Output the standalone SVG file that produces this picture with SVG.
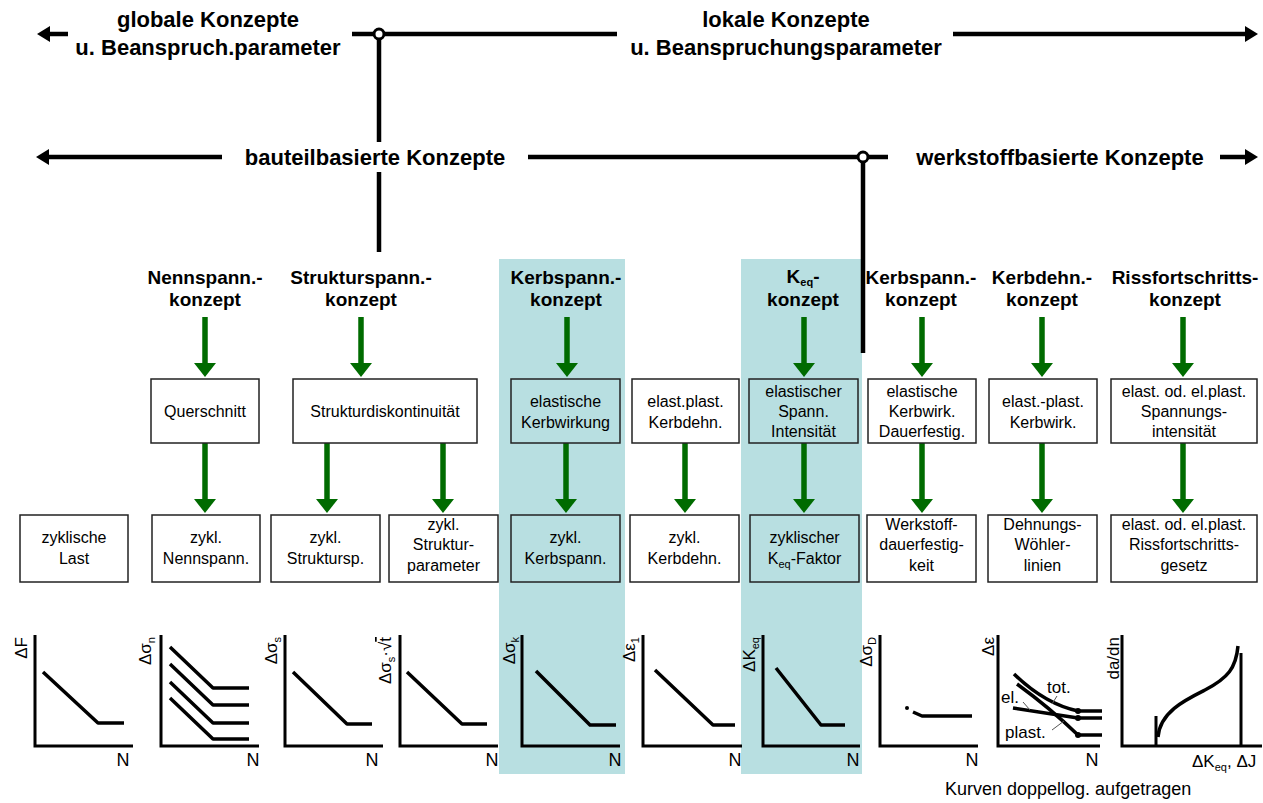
<svg xmlns="http://www.w3.org/2000/svg" xmlns:xlink="http://www.w3.org/1999/xlink" width="1263" height="803" viewBox="0 0 1263 803">
<style>
text{font-family:"Liberation Sans",Arial,Helvetica,sans-serif;fill:#000}
.t1{font-size:22px;font-weight:bold;text-anchor:middle}
.h{font-size:19px;font-weight:bold;text-anchor:middle}
.bx{font-size:16px;text-anchor:middle}
.ax{font-size:17px}
.nn{font-size:18px;text-anchor:middle}
.box{fill:#fff;stroke:#222;stroke-width:1.5}
.boxt{fill:#b8dfe1;stroke:#222;stroke-width:1.5}
.teal{fill:#b8dfe1}
.ln{stroke:#000;stroke-width:4.5;fill:none}
.g{stroke:#006b00;stroke-width:5.5;fill:none}
.gh{fill:#006b00}
.axis{stroke:#000;stroke-width:3;fill:none}
.data{stroke:#000;stroke-width:3.5;fill:none;stroke-linejoin:round}
.thin{stroke:#555;stroke-width:1;fill:none}
</style>
<defs>
<path id="gh" class="gh" d="M-11,-14 L11,-14 L0,0 Z"/>
<path id="al" d="M0,0 L13,-8 L13,8 Z" fill="#000"/>
<path id="ar" d="M0,0 L-13,-8 L-13,8 Z" fill="#000"/>
</defs>
<rect width="1263" height="803" fill="#fff"/>
<g id="highlight">
<rect class="teal" x="499" y="259" width="126" height="515"/>
<rect class="teal" x="741" y="259" width="121" height="515"/>
</g>
<g id="connectors">
<line class="ln" x1="49" y1="34" x2="68" y2="34"/>
<use xlink:href="#al" x="37" y="34"/>
<line class="ln" x1="352" y1="34" x2="374" y2="34"/>
<line class="ln" x1="384" y1="34" x2="617" y2="34"/>
<line class="ln" x1="953" y1="34" x2="1246" y2="34"/>
<use xlink:href="#ar" x="1258" y="34"/>
<line class="ln" x1="379" y1="39" x2="379" y2="142"/>
<line class="ln" x1="379" y1="172" x2="379" y2="252"/>
<circle cx="379" cy="34" r="5" fill="#fff" stroke="#000" stroke-width="3"/>
<line class="ln" x1="48" y1="157" x2="222" y2="157"/>
<use xlink:href="#al" x="36" y="157"/>
<line class="ln" x1="528" y1="157" x2="858" y2="157"/>
<line class="ln" x1="868" y1="157" x2="888" y2="157"/>
<line class="ln" x1="1220" y1="157" x2="1246" y2="157"/>
<use xlink:href="#ar" x="1258" y="157"/>
<line class="ln" x1="863" y1="162" x2="863" y2="353"/>
<circle cx="863" cy="157" r="5" fill="#fff" stroke="#000" stroke-width="3"/>
<g id="green-row1">
<line class="g" x1="205" y1="317" x2="205" y2="365"/><use xlink:href="#gh" x="205" y="377"/>
<line class="g" x1="361" y1="317" x2="361" y2="365"/><use xlink:href="#gh" x="361" y="377"/>
<line class="g" x1="567" y1="317" x2="567" y2="365"/><use xlink:href="#gh" x="567" y="377"/>
<line class="g" x1="804" y1="317" x2="804" y2="365"/><use xlink:href="#gh" x="804" y="377"/>
<line class="g" x1="922" y1="317" x2="922" y2="365"/><use xlink:href="#gh" x="922" y="377"/>
<line class="g" x1="1042" y1="317" x2="1042" y2="365"/><use xlink:href="#gh" x="1042" y="377"/>
<line class="g" x1="1183" y1="317" x2="1183" y2="365"/><use xlink:href="#gh" x="1183" y="377"/>
</g>
<g id="green-row2">
<line class="g" x1="205" y1="443" x2="205" y2="501"/><use xlink:href="#gh" x="205" y="513"/>
<line class="g" x1="327" y1="443" x2="327" y2="501"/><use xlink:href="#gh" x="327" y="513"/>
<line class="g" x1="443" y1="443" x2="443" y2="501"/><use xlink:href="#gh" x="443" y="513"/>
<line class="g" x1="566" y1="443" x2="566" y2="501"/><use xlink:href="#gh" x="566" y="513"/>
<line class="g" x1="685" y1="443" x2="685" y2="501"/><use xlink:href="#gh" x="685" y="513"/>
<line class="g" x1="804" y1="443" x2="804" y2="501"/><use xlink:href="#gh" x="804" y="513"/>
<line class="g" x1="922" y1="443" x2="922" y2="501"/><use xlink:href="#gh" x="922" y="513"/>
<line class="g" x1="1042" y1="443" x2="1042" y2="501"/><use xlink:href="#gh" x="1042" y="513"/>
<line class="g" x1="1183" y1="443" x2="1183" y2="501"/><use xlink:href="#gh" x="1183" y="513"/>
</g>
</g>
<g id="top-labels">
<text class="t1" x="208" y="27">globale Konzepte</text>
<text class="t1" x="208" y="55">u. Beanspruch.parameter</text>
<text class="t1" x="786" y="27">lokale Konzepte</text>
<text class="t1" x="786" y="55">u. Beanspruchungsparameter</text>
<text class="t1" x="375" y="165">bauteilbasierte Konzepte</text>
<text class="t1" x="1060" y="165">werkstoffbasierte Konzepte</text>
</g>
<g id="headers">
<text class="h" x="205" y="284">Nennspann.-</text><text class="h" x="205" y="306">konzept</text>
<text class="h" x="361" y="284">Strukturspann.-</text><text class="h" x="361" y="306">konzept</text>
<text class="h" x="566" y="284">Kerbspann.-</text><text class="h" x="566" y="306">konzept</text>
<text class="h" x="803" y="283">K<tspan dy="3" font-size="11">eq</tspan><tspan dy="-3">-</tspan></text><text class="h" x="803" y="306">konzept</text>
<text class="h" x="921" y="284">Kerbspann.-</text><text class="h" x="921" y="306">konzept</text>
<text class="h" x="1042" y="284">Kerbdehn.-</text><text class="h" x="1042" y="306">konzept</text>
<text class="h" x="1185" y="284">Rissfortschritts-</text><text class="h" x="1185" y="306">konzept</text>
</g>
<g id="n-querschnitt"><rect class="box" x="151" y="379" width="108" height="64"/><text class="bx" x="205" y="417">Querschnitt</text></g>
<g id="n-strukturdisk"><rect class="box" x="293" y="379" width="184" height="64"/><text class="bx" x="385" y="417">Strukturdiskontinuität</text></g>
<g id="n-elkerb"><rect class="boxt" x="511" y="379" width="109" height="64"/><text class="bx" x="565.5" y="407">elastische</text><text class="bx" x="565.5" y="428">Kerbwirkung</text></g>
<g id="n-elplkerbdehn"><rect class="box" x="632" y="379" width="107" height="64"/><text class="bx" x="685.5" y="407">elast.plast.</text><text class="bx" x="685.5" y="428">Kerbdehn.</text></g>
<g id="n-spannint"><rect class="boxt" x="749" y="379" width="109" height="64"/><text class="bx" x="803.5" y="397">elastischer</text><text class="bx" x="803.5" y="417">Spann.</text><text class="bx" x="803.5" y="437">Intensität</text></g>
<g id="n-kerbdauer"><rect class="box" x="868" y="379" width="108" height="64"/><text class="bx" x="922" y="397">elastische</text><text class="bx" x="922" y="417">Kerbwirk.</text><text class="bx" x="922" y="437">Dauerfestig.</text></g>
<g id="n-elplkerbwirk"><rect class="box" x="989" y="379" width="108" height="64"/><text class="bx" x="1043" y="407">elast.-plast.</text><text class="bx" x="1043" y="428">Kerbwirk.</text></g>
<g id="n-spannungsint"><rect class="box" x="1111" y="379" width="146" height="64"/><text class="bx" x="1184" y="397">elast. od. el.plast.</text><text class="bx" x="1184" y="417">Spannungs-</text><text class="bx" x="1184" y="437">intensität</text></g>
<g id="n-zyklast"><rect class="box" x="20" y="515" width="108" height="67"/><text class="bx" x="74" y="543">zyklische</text><text class="bx" x="74" y="564">Last</text></g>
<g id="n-zyknenn"><rect class="box" x="152" y="515" width="108" height="67"/><text class="bx" x="206" y="543">zykl.</text><text class="bx" x="206" y="564">Nennspann.</text></g>
<g id="n-zykstruk"><rect class="box" x="271" y="515" width="109" height="67"/><text class="bx" x="325.5" y="543">zykl.</text><text class="bx" x="325.5" y="564">Struktursp.</text></g>
<g id="n-zykstrukpar"><rect class="box" x="389" y="515" width="109" height="67"/><text class="bx" x="443.5" y="530">zykl.</text><text class="bx" x="443.5" y="550">Struktur-</text><text class="bx" x="443.5" y="571">parameter</text></g>
<g id="n-zykkerb"><rect class="boxt" x="511" y="515" width="109" height="67"/><text class="bx" x="565.5" y="543">zykl.</text><text class="bx" x="565.5" y="564">Kerbspann.</text></g>
<g id="n-zykkerbdehn"><rect class="box" x="630" y="515" width="109" height="67"/><text class="bx" x="684.5" y="543">zykl.</text><text class="bx" x="684.5" y="564">Kerbdehn.</text></g>
<g id="n-zykkeq"><rect class="boxt" x="750" y="515" width="109" height="67"/><text class="bx" x="804.5" y="543">zyklischer</text><text class="bx" x="804.5" y="564">K<tspan dy="4" font-size="11">eq</tspan><tspan dy="-4">-Faktor</tspan></text></g>
<g id="n-werkstoff"><rect class="box" x="867" y="515" width="109" height="67"/><text class="bx" x="921.5" y="530">Werkstoff-</text><text class="bx" x="921.5" y="550">dauerfestig-</text><text class="bx" x="921.5" y="571">keit</text></g>
<g id="n-dehnung"><rect class="box" x="988" y="515" width="109" height="67"/><text class="bx" x="1042.5" y="530">Dehnungs-</text><text class="bx" x="1042.5" y="550">Wöhler-</text><text class="bx" x="1042.5" y="571">linien</text></g>
<g id="n-riss"><rect class="box" x="1111" y="515" width="146" height="67"/><text class="bx" x="1184" y="530">elast. od. el.plast.</text><text class="bx" x="1184" y="550">Rissfortschritts-</text><text class="bx" x="1184" y="571">gesetz</text></g>
<g id="chart-F">
<polyline class="axis" points="35,635 35,746 133,746"/>
<polyline class="data" points="43,672 98,723 124,723"/>
<text class="ax" transform="translate(27,637) rotate(-90)" text-anchor="end">ΔF</text>
<text class="nn" x="123" y="766">N</text>
</g>
<g id="chart-sn">
<polyline class="axis" points="161,635 161,746 259,746"/>
<polyline class="data" points="170,647 213,688 249,688"/>
<polyline class="data" points="170,664 213,705 249,705"/>
<polyline class="data" points="170,682 213,723 249,723"/>
<polyline class="data" points="170,698 213,739 249,739"/>
<text class="ax" transform="translate(151,637) rotate(-90)" text-anchor="end">Δσ<tspan dy="4" font-size="11">n</tspan></text>
<text class="nn" x="253" y="766">N</text>
</g>
<g id="chart-ss">
<polyline class="axis" points="285,635 285,746 383,746"/>
<polyline class="data" points="293,672 347,724 372,724"/>
<text class="ax" transform="translate(277,637) rotate(-90)" text-anchor="end">Δσ<tspan dy="4" font-size="11">s</tspan></text>
<text class="nn" x="372" y="766">N</text>
</g>
<g id="chart-sst">
<polyline class="axis" points="400,635 400,746 498,746"/>
<polyline class="data" points="407,672 462,724 487,724"/>
<text class="ax" transform="translate(391,637) rotate(-90)" text-anchor="end">Δσ<tspan dy="4" font-size="11">s</tspan><tspan dy="-4">·√</tspan><tspan text-decoration="overline">t</tspan></text>
<text class="nn" x="492" y="766">N</text>
</g>
<g id="chart-sk">
<polyline class="axis" points="522,635 522,746 620,746"/>
<polyline class="data" points="536,671 590,725 616,725"/>
<text class="ax" transform="translate(515,637) rotate(-90)" text-anchor="end">Δσ<tspan dy="4" font-size="11">k</tspan></text>
<text class="nn" x="615" y="766">N</text>
</g>
<g id="chart-e1">
<polyline class="axis" points="643,635 643,746 742,746"/>
<polyline class="data" points="655,670 713,725 735,725"/>
<text class="ax" transform="translate(635,637) rotate(-90)" text-anchor="end">Δε<tspan dy="4" font-size="11">1</tspan></text>
<text class="nn" x="735" y="766">N</text>
</g>
<g id="chart-keq">
<polyline class="axis" points="763,635 763,746 860,746"/>
<polyline class="data" points="776,668 821,725 845,725"/>
<text class="ax" transform="translate(755,637) rotate(-90)" text-anchor="end">ΔK<tspan dy="4" font-size="11">eq</tspan></text>
<text class="nn" x="853" y="766">N</text>
</g>
<g id="chart-sd">
<polyline class="axis" points="880,635 880,746 978,746"/>
<circle cx="907" cy="708" r="2"/>
<polyline class="data" points="913,712 922,716 972,716"/>
<text class="ax" transform="translate(872,637) rotate(-90)" text-anchor="end">Δσ<tspan dy="4" font-size="11">D</tspan></text>
<text class="nn" x="972" y="766">N</text>
</g>
<g id="chart-eps">
<polyline class="axis" points="998,635 998,746 1100,746"/>
<path class="data" d="M1014,674 Q1045,704 1078,711 L1102,711"/>
<path class="data" d="M1013,708 L1078,718 L1102,718"/>
<path class="data" d="M1017,684 Q1050,708 1078,735 L1102,735"/>
<circle cx="1078" cy="711" r="3"/><circle cx="1078" cy="718" r="3"/><circle cx="1078" cy="735" r="3"/>
<line class="thin" x1="1057" y1="696" x2="1052" y2="704"/>
<line class="thin" x1="1023" y1="702" x2="1030" y2="710"/>
<line class="thin" x1="1052" y1="730" x2="1064" y2="721"/>
<text class="ax" x="1047" y="693">tot.</text>
<text class="ax" x="1001" y="703">el.</text>
<text class="ax" x="1005" y="738">plast.</text>
<text class="ax" transform="translate(994,637) rotate(-90)" text-anchor="end">Δε</text>
<text class="nn" x="1092" y="766">N</text>
</g>
<g id="chart-dadn">
<polyline class="axis" points="1122,635 1122,746 1262,746"/>
<line class="axis" x1="1156" y1="716" x2="1156" y2="746"/>
<line class="axis" x1="1241" y1="653" x2="1241" y2="746"/>
<path class="data" d="M1158,737 C1160,712 1185,700 1205,690 C1228,678 1236,668 1238,646"/>
<text class="ax" transform="translate(1119,637) rotate(-90)" text-anchor="end">da/dn</text>
<text class="ax" x="1192" y="767">ΔK<tspan dy="4" font-size="11">eq</tspan><tspan dy="-4">, ΔJ</tspan></text>
</g>
<text x="945" y="795" font-size="18">Kurven doppellog. aufgetragen</text>
</svg>
